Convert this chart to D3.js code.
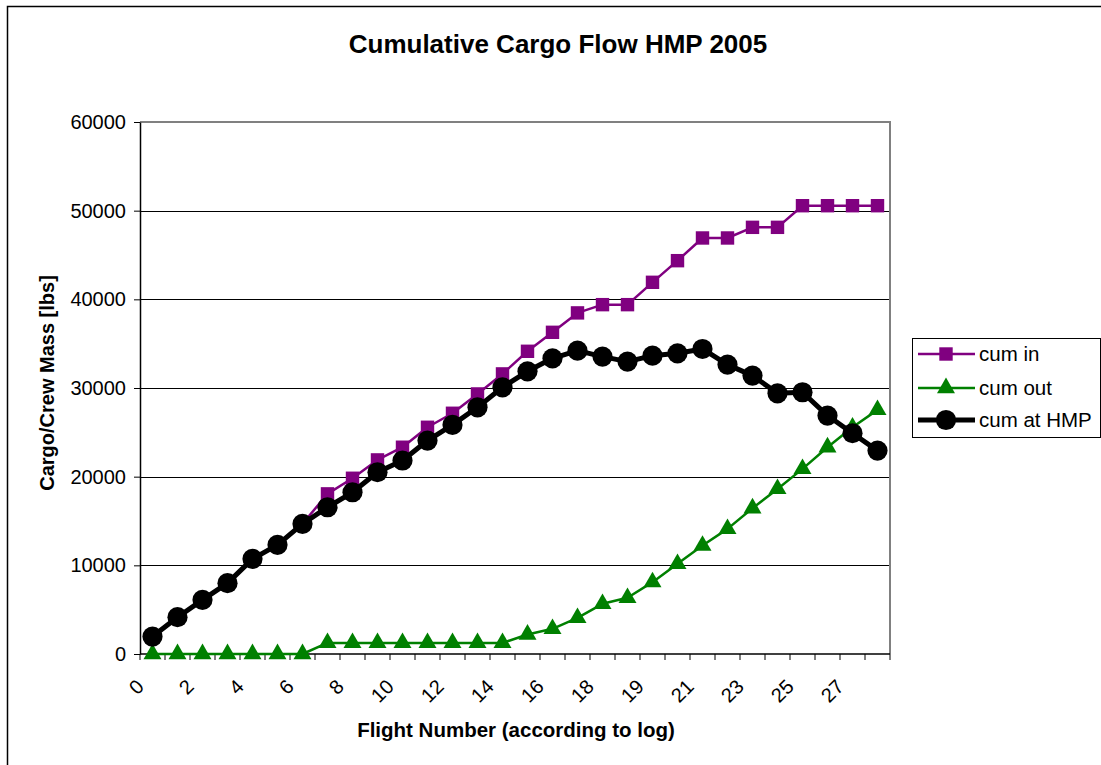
<!DOCTYPE html>
<meta charset="utf-8">
<style>
body { margin: 0; background: #fff; }
svg { font-family: "Liberation Sans", Arial, sans-serif; }
</style>
<body>
<svg width="1101" height="765"></svg>
<script src="https://d3js.org/d3.v7.min.js"></script>
<script>

// flight numbers as logged (every other one is labelled on the axis)
var flights = ["0","1","2","3","4","5","6","7","8","9","10","11","12","13","14",
               "15","16","17","18","18","19","20","21","22","23","24","25","26","27","28"];

var cumIn  = [1970, 4150, 6110, 7990, 10730, 12310, 14680, 18060, 19820, 21890,
              23320, 25570, 27150, 29330, 31590, 34140, 36280, 38470, 39400, 39400,
              41920, 44360, 46920, 46920, 48120, 48120, 50560, 50560, 50560, 50560];

var cumOut = [0, 0, 0, 0, 0, 0, 0, 1250, 1250, 1250,
              1250, 1250, 1250, 1250, 1250, 2200, 2840, 4080, 5660, 6340,
              8100, 10170, 12230, 14110, 16440, 18620, 20880, 23320, 25570, 27530];

var cumHmp = [1970, 4150, 6110, 7990, 10730, 12310, 14680, 16550, 18240, 20500,
              21820, 24070, 25840, 27820, 30080, 31880, 33350, 34215, 33540, 32975,
              33650, 33915, 34400, 32640, 31400, 29400, 29520, 26890, 24900, 22940];

var yTicks = [0, 10000, 20000, 30000, 40000, 50000, 60000];

var svg = d3.select("svg");

var plot = {left: 140, right: 890, top: 122, bottom: 654};

var x = d3.scaleBand()
    .domain(d3.range(flights.length))
    .range([plot.left, plot.right])
    .padding(0);

var y = d3.scaleLinear()
    .domain([0, 60000])
    .range([plot.bottom, plot.top]);

function cx(i) { return x(i) + x.bandwidth() / 2; }

// outer chart frame
svg.append("rect")
    .attr("x", 7.5).attr("y", 6.5)
    .attr("width", 1110).attr("height", 780)
    .attr("fill", "none")
    .attr("stroke", "#000")
    .attr("stroke-width", 1.5);

// gridlines
svg.append("g")
  .selectAll("line")
  .data(yTicks.slice(1, -1))
  .enter().append("line")
    .attr("x1", plot.left).attr("x2", plot.right)
    .attr("y1", function(d) { return Math.round(y(d)) + 0.5; })
    .attr("y2", function(d) { return Math.round(y(d)) + 0.5; })
    .attr("stroke", "#000")
    .attr("stroke-width", 1);

// plot area border (top / right are grey)
svg.append("path")
    .attr("d", "M" + plot.left + "," + plot.top + "H" + plot.right + "V" + plot.bottom)
    .attr("fill", "none")
    .attr("stroke", "#808080")
    .attr("stroke-width", 2);

// y axis
var yAxis = d3.axisLeft(y)
    .tickValues(yTicks)
    .tickSize(6)
    .tickSizeOuter(0)
    .tickPadding(8)
    .tickFormat(d3.format("d"));

var gy = svg.append("g")
    .attr("transform", "translate(" + plot.left + ",0)")
    .call(yAxis);
gy.select(".domain").attr("stroke", "#000").attr("stroke-width", 1.5);
gy.selectAll(".tick line").attr("stroke", "#000");
gy.selectAll(".tick text")
    .attr("font-size", 20)
    .attr("font-family", "Liberation Sans, Arial, sans-serif")
    .attr("fill", "#000");

// x axis: ticks at category boundaries, labels every other category
var gx = svg.append("g");
gx.append("line")
    .attr("x1", plot.left).attr("x2", plot.right)
    .attr("y1", plot.bottom).attr("y2", plot.bottom)
    .attr("stroke", "#000").attr("stroke-width", 1.5);
gx.selectAll(".xt")
  .data(d3.range(flights.length + 1))
  .enter().append("line")
    .attr("class", "xt")
    .attr("x1", function(i) { return i < flights.length ? x(i) : plot.right; })
    .attr("x2", function(i) { return i < flights.length ? x(i) : plot.right; })
    .attr("y1", plot.bottom).attr("y2", plot.bottom + 6)
    .attr("stroke", "#000");
gx.selectAll(".xl")
  .data(d3.range(0, flights.length, 2))
  .enter().append("text")
    .attr("class", "xl")
    .attr("text-anchor", "end")
    .attr("font-size", 20)
    .attr("transform", function(i) {
      return "translate(" + (cx(i) - 7.5) + "," + 688 + ") rotate(-45)";
    })
    .text(function(i) { return flights[i]; });

// titles
svg.append("text")
    .attr("x", 558).attr("y", 53)
    .attr("text-anchor", "middle")
    .attr("font-size", 26)
    .attr("font-weight", "bold")
    .text("Cumulative Cargo Flow HMP 2005");

svg.append("text")
    .attr("x", 516).attr("y", 737)
    .attr("text-anchor", "middle")
    .attr("font-size", 20.5)
    .attr("font-weight", "bold")
    .text("Flight Number (according to log)");

svg.append("text")
    .attr("transform", "translate(54,383) rotate(-90)")
    .attr("text-anchor", "middle")
    .attr("font-size", 20)
    .attr("font-weight", "bold")
    .text("Cargo/Crew Mass [lbs]");

// series
var line = d3.line()
    .x(function(d, i) { return cx(i); })
    .y(function(d) { return y(d); });

var series = [
  {name: "cum in", values: cumIn, color: "#800080", width: 2.5, marker: "square"},
  {name: "cum out", values: cumOut, color: "#008000", width: 2.5, marker: "triangle"},
  {name: "cum at HMP", values: cumHmp, color: "#000", width: 5, marker: "circle"}
];

var symbols = {
  square: d3.symbol().type(d3.symbolSquare).size(180),
  triangle: d3.symbol().type(d3.symbolTriangle).size(140),
  circle: d3.symbol().type(d3.symbolCircle).size(320)
};

series.forEach(function(s) {
  var g = svg.append("g");
  g.append("path")
      .datum(s.values)
      .attr("d", line)
      .attr("fill", "none")
      .attr("stroke", s.color)
      .attr("stroke-width", s.width)
      .attr("stroke-linejoin", "round");
  g.selectAll(".m")
    .data(s.values)
    .enter().append("path")
      .attr("class", "m")
      .attr("transform", function(d, i) { return "translate(" + cx(i) + "," + y(d) + ")"; })
      .attr("d", symbols[s.marker])
      .attr("fill", s.color);
});

// legend
var legend = svg.append("g");
legend.append("rect")
    .attr("x", 912.5).attr("y", 338.5)
    .attr("width", 188).attr("height", 99)
    .attr("fill", "#fff")
    .attr("stroke", "#000");

var item = legend.selectAll(".item")
  .data(series)
  .enter().append("g")
    .attr("class", "item")
    .attr("transform", function(d, i) { return "translate(0," + [354, 388, 420][i] + ")"; });

item.append("line")
    .attr("x1", 918).attr("x2", 975)
    .attr("stroke", function(d) { return d.color; })
    .attr("stroke-width", function(d) { return d.width; });
item.append("path")
    .attr("transform", "translate(946,0)")
    .attr("d", function(d) { return symbols[d.marker](); })
    .attr("fill", function(d) { return d.color; });
item.append("text")
    .attr("x", 979)
    .attr("dy", "0.35em")
    .attr("font-size", 20.5)
    .text(function(d) { return d.name; });

</script>
</body>
